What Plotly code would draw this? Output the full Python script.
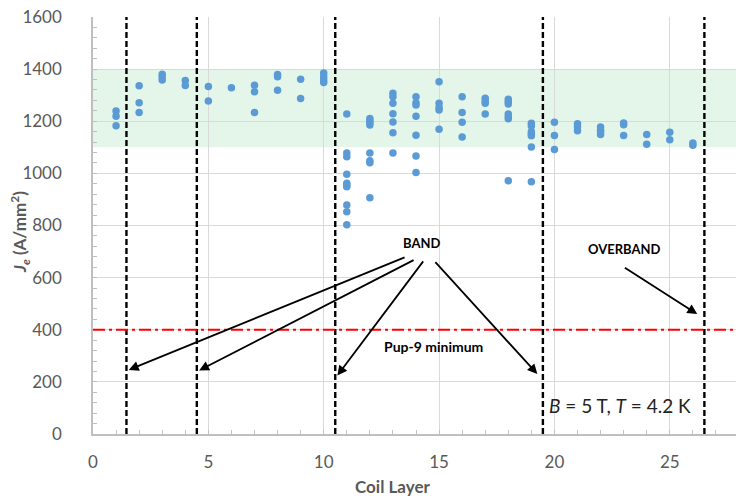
import plotly.graph_objects as go

# Measured engineering current density per coil layer (A/mm^2)
layer_values = {
    1: [1239, 1219, 1183],
    2: [1336, 1271, 1234],
    3: [1380, 1370, 1358],
    4: [1356, 1337],
    5: [1333, 1278],
    6: [1329],
    7: [1338, 1313, 1234],
    8: [1379, 1371, 1319],
    9: [1361, 1287],
    10: [1385, 1371, 1358, 1349],
    11: [1228, 1078, 1064, 997, 962, 955, 949, 879, 853, 803],
    12: [1211, 1202, 1195, 1186, 1078, 1048, 1041, 906],
    13: [1307, 1294, 1269, 1229, 1197, 1156, 1078],
    14: [1294, 1271, 1262, 1219, 1146, 1067, 1003],
    15: [1352, 1269, 1253, 1243, 1169],
    16: [1294, 1234, 1196, 1140],
    17: [1288, 1278, 1269, 1228],
    18: [1284, 1275, 1266, 1228, 1218, 1210, 972],
    19: [1192, 1182, 1160, 1151, 1144, 1101, 968],
    20: [1196, 1145, 1092],
    21: [1190, 1179, 1164],
    22: [1178, 1165, 1160, 1149],
    23: [1193, 1187, 1145],
    24: [1149, 1112],
    25: [1158, 1129],
    26: [1117, 1108],
}
layers = [k for k, vals in layer_values.items() for _ in vals]
je = [v for vals in layer_values.values() for v in vals]

band_boundaries = [1.45, 4.5, 10.5, 19.5, 26.5]   # layer boundaries (dashed)
target_band = [1100, 1400]                          # shaded Je window
pup9_minimum = 400                                  # Pup-9 minimum Je

FONT = "Lato"
GRAY = "#595959"

fig = go.Figure()
fig.add_trace(go.Scatter(
    x=layers, y=je, mode="markers",
    marker=dict(color="#5B9BD5", size=7.5),
    showlegend=False, hoverinfo="x+y",
))

shapes = [dict(type="rect", xref="paper", x0=0, x1=1, yref="y",
               y0=target_band[0], y1=target_band[1],
               fillcolor="#E4F5EA", line_width=0, layer="below")]
for xb in band_boundaries:
    shapes.append(dict(type="line", xref="x", x0=xb, x1=xb, yref="paper", y0=0, y1=1,
                       line=dict(color="black", width=2.4, dash="6px,3px")))
shapes.append(dict(type="line", xref="paper", x0=0, x1=1, yref="y",
                   y0=pup9_minimum, y1=pup9_minimum,
                   line=dict(color="#FF0000", width=1.8, dash="12px,4px,3px,4px")))

annotations = []
# arrows: (tail x, tail y) -> (head x, head y)
band_arrows = [
    ((13.57, 680), (1.55, 246)),
    ((13.96, 670), (4.6, 244)),
    ((14.36, 668), (10.59, 224)),
    ((14.78, 665), (19.26, 230)),
    ((22.99, 642), (26.19, 460)),
]
for (tx, ty), (hx, hy) in band_arrows:
    annotations.append(dict(x=hx, y=hy, ax=tx, ay=ty, xref="x", yref="y",
                            axref="x", ayref="y", text="", showarrow=True,
                            arrowhead=2, arrowsize=1.1, arrowwidth=1.8,
                            arrowcolor="black"))
annotations += [
    dict(x=14.25, y=733, xref="x", yref="y", text="<b>BAND</b>", showarrow=False,
         font=dict(family=FONT, size=13, color="black")),
    dict(x=23.02, y=709, xref="x", yref="y", text="<b>OVERBAND</b>", showarrow=False,
         font=dict(family=FONT, size=13, color="black")),
    dict(x=14.75, y=335, xref="x", yref="y", text="<b>Pup-9 minimum</b>", showarrow=False,
         font=dict(family=FONT, size=14, color="black")),
    dict(x=22.84, y=111, xref="x", yref="y",
         text="<i>B</i> = 5 T, <i>T</i> = 4.2 K", showarrow=False,
         font=dict(family=FONT, size=19, color="#222222")),
    dict(x=(392 - 93) / 643, y=(434 - 486) / 417, xref="paper", yref="paper",
         xanchor="center", yanchor="middle",
         text="<b>Coil Layer</b>", showarrow=False,
         font=dict(family=FONT, size=17, color=GRAY)),
    dict(x=(20 - 93) / 643, y=(434 - 232) / 417, xref="paper", yref="paper",
         xanchor="center", yanchor="middle",
         text="<b><i>J</i><sub><i>e</i></sub> (A/mm<sup>2</sup>)</b>", showarrow=False,
         textangle=-90, font=dict(family=FONT, size=17, color=GRAY)),
]

fig.update_layout(
    width=736, height=498,
    margin=dict(l=93, r=0, t=17, b=64),
    paper_bgcolor="white", plot_bgcolor="white",
    shapes=shapes, annotations=annotations,
    font=dict(family=FONT, color=GRAY),
)
fig.update_xaxes(
    range=[0, 27.87], dtick=5, tick0=0,
    showgrid=True, gridcolor="#D9D9D9", gridwidth=1,
    showline=True, linecolor="#BFBFBF", linewidth=1.5,
    ticks="inside", ticklen=4, tickcolor="#BFBFBF",
    minor=dict(dtick=1, ticks="inside", ticklen=4, tickcolor="#BFBFBF", showgrid=False),
    tickfont=dict(family=FONT, size=17, color=GRAY),
    ticklabelstandoff=12, zeroline=False,
)
fig.update_yaxes(
    range=[0, 1600], dtick=200, tick0=0,
    showgrid=True, gridcolor="#D9D9D9", gridwidth=1,
    showline=True, linecolor="#BFBFBF", linewidth=1.5,
    ticks="inside", ticklen=4, tickcolor="#BFBFBF",
    minor=dict(dtick=40, ticks="inside", ticklen=4, tickcolor="#BFBFBF", showgrid=False),
    tickfont=dict(family=FONT, size=17, color=GRAY),
    ticklabelstandoff=26, zeroline=False,
)

fig.write_html("out.html")
